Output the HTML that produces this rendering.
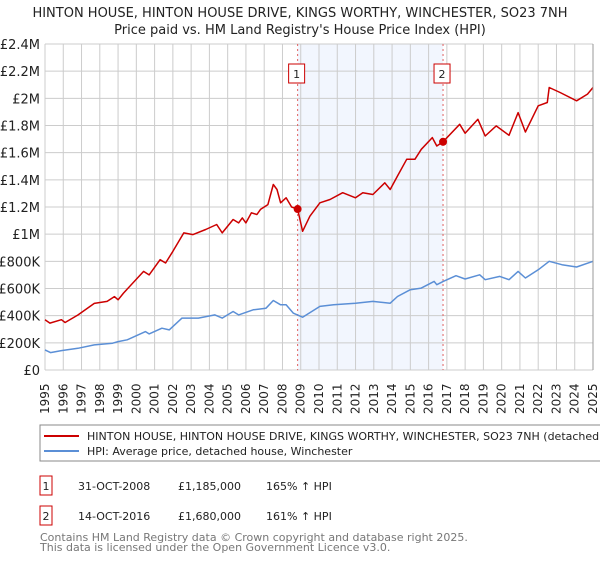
<!DOCTYPE html>
<html><head><meta charset="utf-8"><style>
body{margin:0;background:#fff;font-family:"Liberation Sans","DejaVu Sans",sans-serif;}
</style></head><body>
<svg id="chart" width="600" height="560" xmlns="http://www.w3.org/2000/svg" font-family="DejaVu Sans, Liberation Sans, sans-serif">
<text x="300" y="17" text-anchor="middle" font-size="13" fill="#222">HINTON HOUSE, HINTON HOUSE DRIVE, KINGS WORTHY, WINCHESTER, SO23 7NH</text>
<text x="300" y="34" text-anchor="middle" font-size="13" fill="#222">Price paid vs. HM Land Registry's House Price Index (HPI)</text>
<g id="grid"></g>
<g id="marks"></g>
<g id="axes"></g>
<rect x="40" y="425" width="570" height="36" fill="#fff" stroke="#888"/>
<line x1="44" y1="436" x2="79" y2="436" stroke="#cc0000" stroke-width="2"/>
<text x="87" y="440" font-size="11" fill="#222">HINTON HOUSE, HINTON HOUSE DRIVE, KINGS WORTHY, WINCHESTER, SO23 7NH (detached house)</text>
<line x1="44" y1="451" x2="79" y2="451" stroke="#5b8fd6" stroke-width="2"/>
<text x="87" y="455" font-size="11" fill="#222">HPI: Average price, detached house, Winchester</text>
<g font-size="11" fill="#222">
<rect x="40" y="476" width="12" height="19" fill="#fff" stroke="#cc0000"/>
<text x="46" y="490" text-anchor="middle">1</text>
<text x="78" y="490">31-OCT-2008</text><text x="178" y="490">£1,185,000</text><text x="266" y="490">165% ↑ HPI</text>
</g>
<g font-size="11" fill="#222">
<rect x="40" y="506" width="12" height="19" fill="#fff" stroke="#cc0000"/>
<text x="46" y="520" text-anchor="middle">2</text>
<text x="78" y="520">14-OCT-2016</text><text x="178" y="520">£1,680,000</text><text x="266" y="520">161% ↑ HPI</text>
</g>
<text x="40" y="541" font-size="11" fill="#777">Contains HM Land Registry data © Crown copyright and database right 2025.</text>
<text x="40" y="551" font-size="11" fill="#777">This data is licensed under the Open Government Licence v3.0.</text>
</svg>
<script>
const yTicks=[0,200,400,600,800,1000,1200,1400,1600,1800,2000,2200,2400];
const yTickLabels=["£0","£200K","£400K","£600K","£800K","£1M","£1.2M","£1.4M","£1.6M","£1.8M","£2M","£2.2M","£2.4M"];
const xYears=[1995,1996,1997,1998,1999,2000,2001,2002,2003,2004,2005,2006,2007,2008,2009,2010,2011,2012,2013,2014,2015,2016,2017,2018,2019,2020,2021,2022,2023,2024,2025];
const redT=[1995.0,1995.27,1995.9,1996.1,1996.8,1997.7,1998.4,1998.8,1999.0,1999.3,2000.4,2000.7,2001.3,2001.6,2002.0,2002.6,2003.1,2003.8,2004.4,2004.7,2005.3,2005.6,2005.8,2006.0,2006.3,2006.6,2006.8,2007.2,2007.5,2007.7,2007.9,2008.2,2008.5,2008.83,2009.1,2009.5,2010.05,2010.6,2011.3,2012.0,2012.4,2012.95,2013.6,2013.9,2014.3,2014.8,2015.25,2015.6,2016.2,2016.45,2016.79,2017.7,2018.0,2018.7,2019.1,2019.7,2020.4,2020.9,2021.3,2022.0,2022.5,2022.6,2023.2,2024.1,2024.7,2025.0];
const redV=[370,345,370,350,405,490,505,540,517,566,726,700,812,788,874,1009,997,1034,1071,1009,1108,1083,1120,1083,1157,1145,1182,1218,1366,1329,1231,1268,1200,1185,1021,1132,1231,1255,1305,1268,1305,1292,1378,1329,1428,1551,1551,1625,1711,1649,1680,1809,1743,1846,1723,1797,1728,1895,1752,1945,1969,2080,2043,1982,2031,2080];
const blueT=[1995.0,1995.3,1995.9,1996.8,1997.7,1998.7,1999.0,1999.5,2000.5,2000.7,2001.4,2001.8,2002.5,2003.4,2004.3,2004.7,2005.3,2005.6,2006.4,2007.1,2007.5,2007.9,2008.2,2008.6,2009.1,2010.05,2010.8,2012.0,2012.95,2013.9,2014.3,2015.0,2015.6,2016.3,2016.45,2016.8,2017.5,2018.0,2018.8,2019.1,2019.9,2020.4,2020.9,2021.3,2022.0,2022.6,2023.3,2024.1,2025.0];
const blueV=[148,128,143,160,185,197,209,222,283,266,308,295,382,382,406,382,431,406,443,455,512,480,480,418,389,468,480,492,505,492,541,591,603,652,628,652,694,670,701,665,689,665,726,677,738,800,775,758,800];
const saleT=[2008.83,2016.79];
const saleV=[1185,1680];
const saleLabels=["1","2"];

const L=45,R=593,T=44,B=370;
const xs=t=>L+(t-1995)/30*(R-L);
const ys=v=>B-v/2400*(B-T);
const NS="http://www.w3.org/2000/svg";
function mk(tag,attrs,parent){const e=document.createElementNS(NS,tag);for(const k in attrs)e.setAttribute(k,attrs[k]);parent.appendChild(e);return e;}
const grid=document.getElementById('grid'),marks=document.getElementById('marks'),axes=document.getElementById('axes');
const sh=mk('rect',{x:xs(saleT[0]),y:T,width:xs(saleT[1])-xs(saleT[0]),height:B-T,fill:'#f2f6fe'},grid);


yTicks.forEach((v,i)=>{
  const g=mk('line',{x1:L,x2:R,y1:ys(v),y2:ys(v),stroke:'#cccccc','stroke-width':1},grid);
  
  
  const t=mk('text',{x:40,y:ys(v)+5,'text-anchor':'end','font-size':13,fill:'#222'},axes);
  t.textContent=yTickLabels[i];
  
  
});
xYears.forEach(y=>{
  const g=mk('line',{x1:xs(y),x2:xs(y),y1:T,y2:B,stroke:'#cccccc','stroke-width':1},grid);
  
  
  const t=mk('text',{transform:`translate(${xs(y)+4},${414}) rotate(-90)`,'font-size':12,fill:'#222'},axes);
  t.textContent=y;
  
  
});
saleT.forEach((s,i)=>{
  const l=mk('line',{x1:xs(s),x2:xs(s),y1:T,y2:B,stroke:'#e06060','stroke-dasharray':'2,3','stroke-width':1},marks);
  
  
});
const pts=(T_,V_)=>T_.map((t,i)=>xs(t).toFixed(1)+','+ys(V_[i]).toFixed(1)).join(' ');
const bl=mk('polyline',{points:pts(blueT,blueV),fill:'none',stroke:'#5b8fd6','stroke-width':1.5,'stroke-linejoin':'round'},marks);


const rl=mk('polyline',{points:pts(redT,redV),fill:'none',stroke:'#cc0000','stroke-width':1.5,'stroke-linejoin':'round'},marks);


saleT.forEach((s,i)=>{
  const c=mk('circle',{cx:xs(s),cy:ys(saleV[i]),r:4,fill:'#cc0000'},marks);
  
  
  const b=mk('rect',{x:xs(s)-9,y:64,width:16,height:19,fill:'#fff',stroke:'#cc0000'},marks);
  
  
  const t=mk('text',{x:xs(s)-1,y:78,'text-anchor':'middle','font-size':11,fill:'#222'},marks);
  t.textContent=saleLabels[i];
  
  
});
const ax=mk('line',{x1:R,x2:R,y1:T,y2:B,stroke:'#999'},axes);


</script>
</body></html>
